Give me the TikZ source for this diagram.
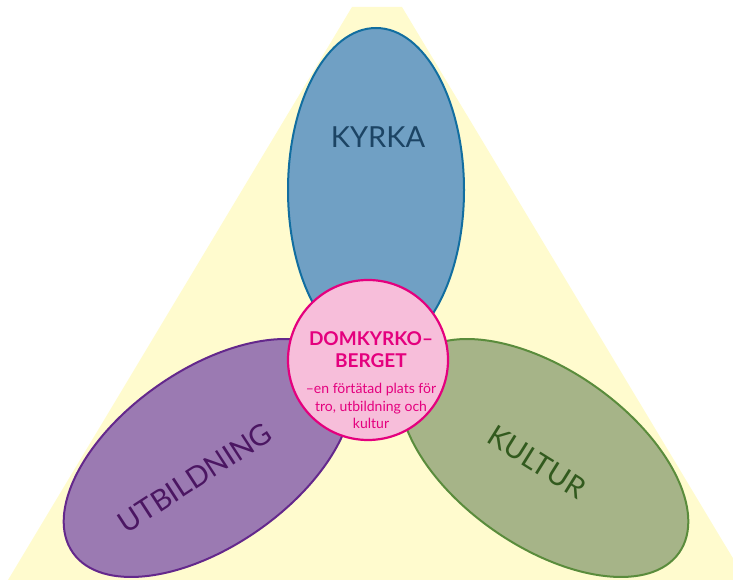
\documentclass[tikz,border=0pt]{standalone}
\usepackage{fontspec}
\setmainfont{Lato}
\usetikzlibrary{shapes, positioning}

\definecolor{bgyellow}{RGB}{255,251,206}
\definecolor{kyrkafill}{RGB}{112,160,196}
\definecolor{kyrkaline}{RGB}{18,110,160}
\definecolor{kyrkatext}{RGB}{28,68,100}
\definecolor{utbfill}{RGB}{155,122,178}
\definecolor{utbline}{RGB}{100,40,140}
\definecolor{utbtext}{RGB}{75,22,98}
\definecolor{kulturfill}{RGB}{166,180,136}
\definecolor{kulturline}{RGB}{90,140,60}
\definecolor{kulturtext}{RGB}{50,90,30}
\definecolor{hubfill}{RGB}{247,190,218}
\definecolor{hubline}{RGB}{228,0,126}

\begin{document}
\begin{tikzpicture}[x=1pt, y=1pt,
        petal/.style={line width=2pt},
        petaltext/.style={font=\fontsize{29}{32}\selectfont, inner sep=0pt},
        hub/.style={circle, draw=hubline, fill=hubfill, line width=2.2pt, minimum size=160pt, inner sep=0pt},
        hubtext/.style={align=center, text=hubline, inner sep=0pt}
    ]
        \useasboundingbox (0,0) rectangle (733,580);
        \clip (0,0) rectangle (733,580);
        % Background
        \fill[bgyellow] (352,573) -- (402,573) -- (746,0) -- (8,0) -- cycle;

        % Petals
        \draw[petal, draw=kyrkaline, fill=kyrkafill] (376,390) ellipse [x radius=88, y radius=162];
        \draw[petal, draw=utbline, fill=utbfill, rotate around={35:(208,122)}] (208,122) ellipse [x radius=165, y radius=88];
        \draw[petal, draw=kulturline, fill=kulturfill, rotate around={-35:(544,122)}] (544,122) ellipse [x radius=165, y radius=88];

        \node[petaltext, text=kyrkatext] (kyrka) at (378,443) {KYRKA};
        \node[petaltext, text=utbtext, rotate=33] (utb) at (195,102) {UTBILDNING};
        \node[petaltext, text=kulturtext, rotate=-32] (kultur) at (537,118) {KULTUR};

        % Centre
        \node[hub] (centre) at (368,220) {};
        \node[hubtext, font=\bfseries\fontsize{19}{22}\selectfont] (title) at (371,230) {DOMKYRKO--\\BERGET};
        \node[hubtext, font=\fontsize{14}{17.5}\selectfont] (sub) at (371,174) {--en förtätad plats för\\tro, utbildning och\\kultur};
    \end{tikzpicture}
\end{document}
